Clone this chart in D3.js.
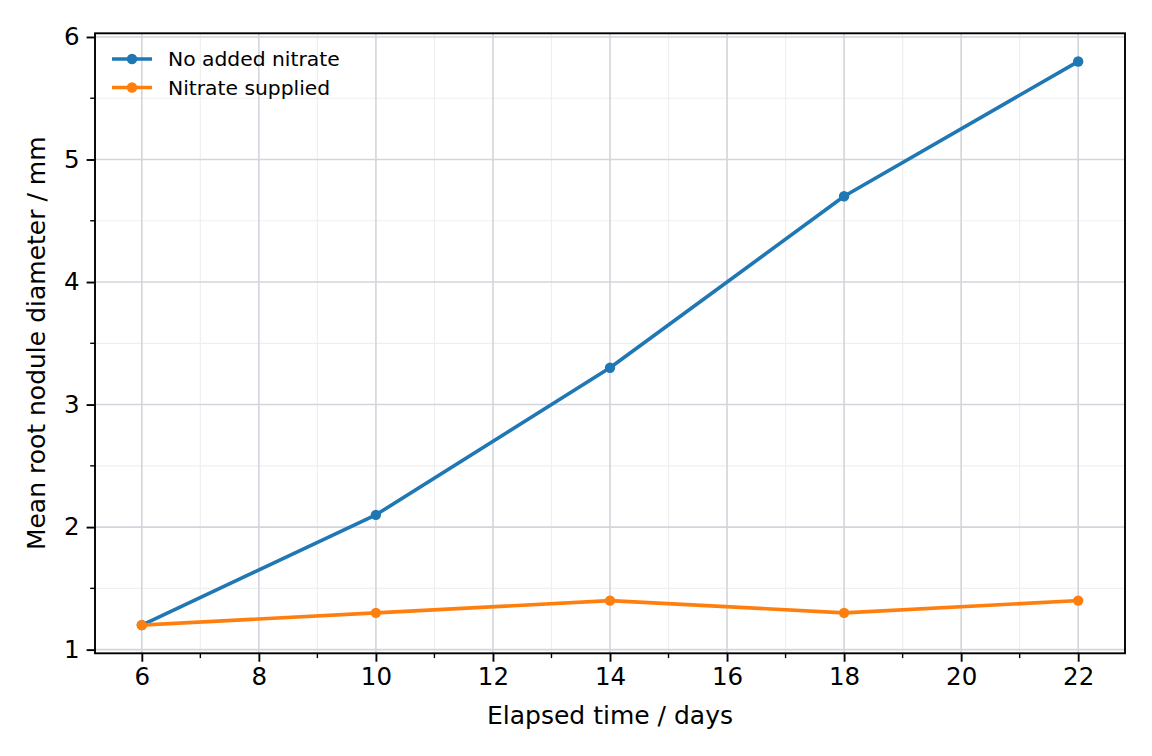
<!DOCTYPE html>
<html>
<head>
<meta charset="utf-8">
<script src="https://cdn.jsdelivr.net/npm/d3@7"></script>
<style>
  body { margin: 0; background: #fff; }
  svg { display: block; font-family: "DejaVu Sans", sans-serif; }
</style>
</head>
<body>
<svg id="svgBlock" width="1152" height="756"></svg>
<script>
// data
const days = [6, 10, 14, 18, 22];
const noNitrate = [1.2, 2.1, 3.3, 4.7, 5.8];
const withNitrate = [1.2, 1.3, 1.4, 1.3, 1.4];
const seriesNames = ["No added nitrate", "Nitrate supplied"];
const seriesColors = ["#1f77b4", "#ff7f0e"];
const xTicks = [6, 8, 10, 12, 14, 16, 18, 20, 22];
const yTicks = [1, 2, 3, 4, 5, 6];

function createChart() {
  const svg = d3.select("#svgBlock");
  const margin = { top: 33.3, right: 27, bottom: 102.7, left: 95 };
  const width = 1152, height = 756;

  const x = d3.scaleLinear().domain([5.2, 22.8]).range([margin.left, width - margin.right]);
  const y = d3.scaleLinear().domain([0.97, 6.03]).range([height - margin.bottom, margin.top]);

  const xMinor = d3.range(6, 23, 1).filter(d => d % 2 !== 0);
  const yMinor = d3.range(1.5, 6, 1);

  // minor grid
  const grid = svg.append("g");
  grid.selectAll(".gxm").data(xMinor).enter().append("line")
    .attr("x1", d => x(d)).attr("x2", d => x(d))
    .attr("y1", y.range()[0]).attr("y2", y.range()[1])
    .attr("stroke", "#efefef").attr("stroke-width", 1.2);
  grid.selectAll(".gym").data(yMinor).enter().append("line")
    .attr("y1", d => y(d)).attr("y2", d => y(d))
    .attr("x1", x.range()[0]).attr("x2", x.range()[1])
    .attr("stroke", "#efefef").attr("stroke-width", 1.2);
  // major grid
  grid.selectAll(".gx").data(xTicks).enter().append("line")
    .attr("x1", d => x(d)).attr("x2", d => x(d))
    .attr("y1", y.range()[0]).attr("y2", y.range()[1])
    .attr("stroke", "#d2d5db").attr("stroke-width", 1.6);
  grid.selectAll(".gy").data(yTicks).enter().append("line")
    .attr("y1", d => y(d)).attr("y2", d => y(d))
    .attr("x1", x.range()[0]).attr("x2", x.range()[1])
    .attr("stroke", "#d2d5db").attr("stroke-width", 1.6);

  // series lines
  const line = d3.line().x(d => x(d[0])).y(d => y(d[1]));
  [noNitrate, withNitrate].forEach((vals, i) => {
    const pts = days.map((d, j) => [d, vals[j]]);
    svg.append("path").datum(pts)
      .attr("d", line).attr("fill", "none")
      .attr("stroke", seriesColors[i]).attr("stroke-width", 3.6)
      .attr("stroke-linejoin", "round").attr("stroke-linecap", "square");
    svg.selectAll(null).data(pts).enter().append("circle")
      .attr("cx", d => x(d[0])).attr("cy", d => y(d[1]))
      .attr("r", 5.2).attr("fill", seriesColors[i]);
  });

  // axes
  const xAxis = d3.axisBottom(x).tickValues(xTicks).tickFormat(d3.format("d"))
    .tickSize(8.4).tickPadding(6).tickSizeOuter(0);
  const yAxis = d3.axisLeft(y).tickValues(yTicks).tickFormat(d3.format("d"))
    .tickSize(8.4).tickPadding(7).tickSizeOuter(0);

  const gx = svg.append("g").attr("transform", `translate(0,${y.range()[0]})`).call(xAxis);
  const gy = svg.append("g").attr("transform", `translate(${x.range()[0]},0)`).call(yAxis);
  [gx, gy].forEach(g => {
    g.select(".domain").remove();
    g.selectAll(".tick line").attr("stroke", "#000").attr("stroke-width", 1.9);
    g.selectAll(".tick text").attr("fill", "#000").attr("font-size", 24.5)
      .attr("font-family", "DejaVu Sans");
  });

  // minor ticks
  svg.append("g").selectAll("line").data(xMinor).enter().append("line")
    .attr("x1", d => x(d)).attr("x2", d => x(d))
    .attr("y1", y.range()[0]).attr("y2", y.range()[0] + 4.8)
    .attr("stroke", "#000").attr("stroke-width", 1.4);
  svg.append("g").selectAll("line").data(yMinor).enter().append("line")
    .attr("y1", d => y(d)).attr("y2", d => y(d))
    .attr("x1", x.range()[0]).attr("x2", x.range()[0] - 4.8)
    .attr("stroke", "#000").attr("stroke-width", 1.4);

  // frame
  svg.append("rect")
    .attr("x", x.range()[0]).attr("y", y.range()[1])
    .attr("width", x.range()[1] - x.range()[0])
    .attr("height", y.range()[0] - y.range()[1])
    .attr("fill", "none").attr("stroke", "#000").attr("stroke-width", 1.9);

  // axis labels
  svg.append("text")
    .attr("x", (x.range()[0] + x.range()[1]) / 2).attr("y", 724)
    .attr("text-anchor", "middle").attr("font-size", 25)
    .text("Elapsed time / days");
  svg.append("text")
    .attr("transform", `translate(45,${(y.range()[0] + y.range()[1]) / 2}) rotate(-90)`)
    .attr("text-anchor", "middle").attr("font-size", 25)
    .text("Mean root nodule diameter / mm");

  // legend
  const legend = svg.append("g").attr("transform", "translate(112,59)");
  seriesNames.forEach((name, i) => {
    const row = legend.append("g").attr("transform", `translate(0,${i * 28.5})`);
    row.append("line").attr("x1", 0).attr("x2", 40).attr("y1", 0).attr("y2", 0)
      .attr("stroke", seriesColors[i]).attr("stroke-width", 3.6);
    row.append("circle").attr("cx", 20).attr("cy", 0).attr("r", 5.2).attr("fill", seriesColors[i]);
    row.append("text").attr("x", 56).attr("y", 7).attr("font-size", 20.3).text(name);
  });
}

createChart();
</script>
</body>
</html>
